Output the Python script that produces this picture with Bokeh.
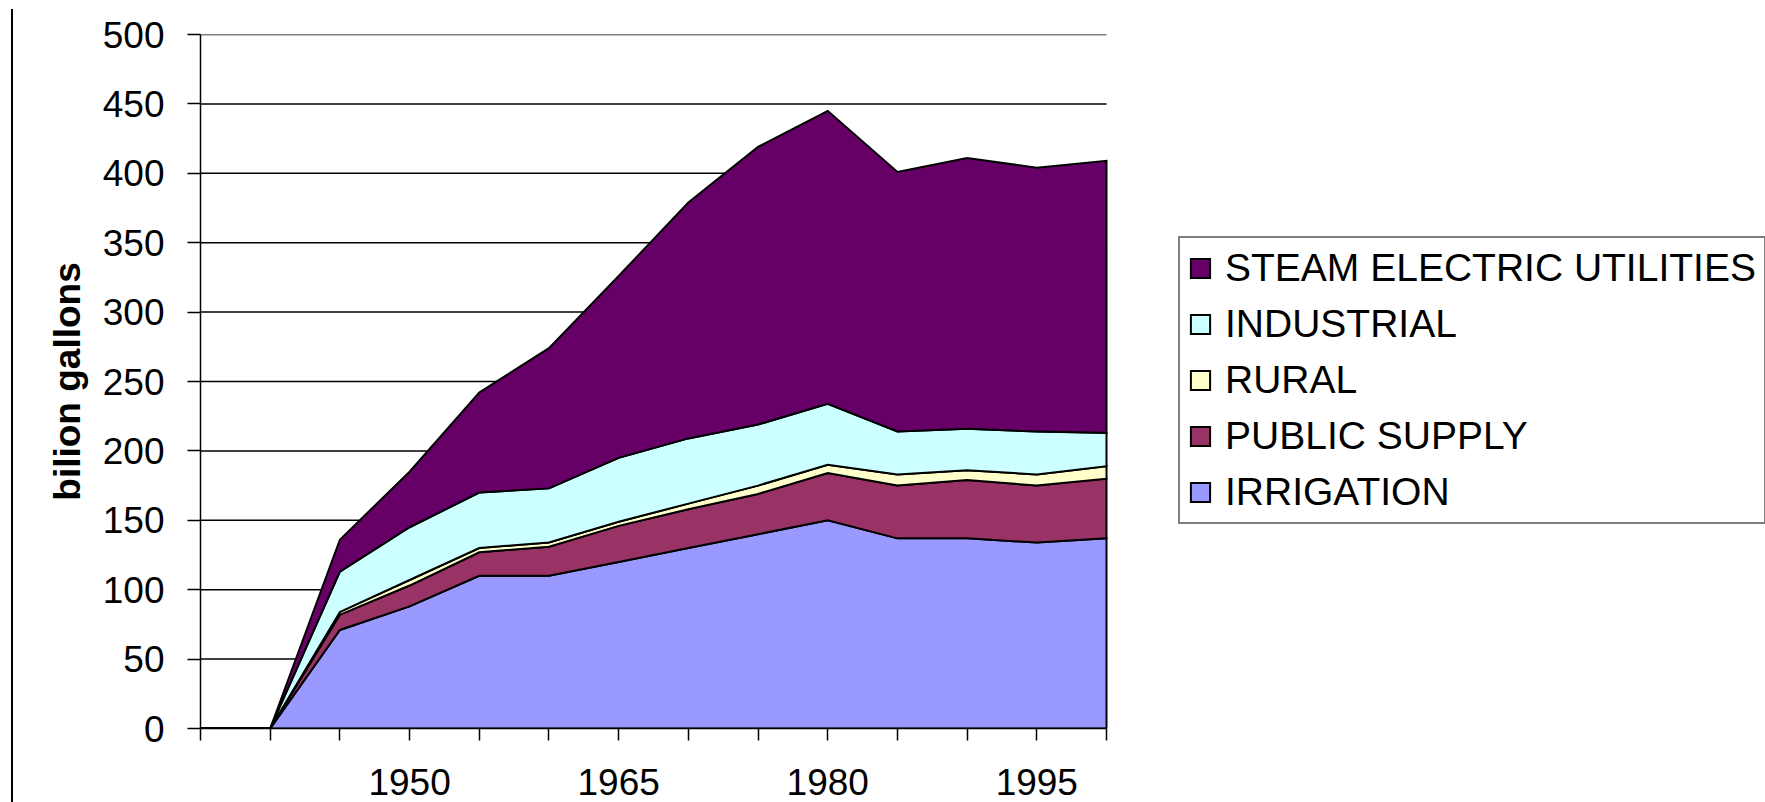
from bokeh.plotting import figure
from bokeh.models import Legend, LegendItem, FixedTicker, Range1d, Div
from bokeh.layouts import row
from bokeh.embed import file_html
from bokeh.resources import INLINE

# ---- data ----
x_positions = [0, 1, 2, 3, 4, 5, 6, 7, 8, 9, 10, 11, 12, 13]
x_tick_labels = ["", "", "", "1950", "", "", "1965", "", "", "1980", "", "", "1995", ""]
y_ticks = [0, 50, 100, 150, 200, 250, 300, 350, 400, 450, 500]

irrigation = [0, 0, 71, 88, 110, 110, 120, 130, 140, 150, 137, 137, 134, 137]
public_supply = [0, 0, 11, 15, 17, 21, 26, 28, 29, 34, 38, 42, 41, 43]
rural = [0, 0, 2, 4, 3, 3, 3, 4, 6, 6, 8, 7, 8, 9]
industrial = [0, 0, 29, 38, 40, 39, 46, 47, 44, 44, 31, 30, 31, 24]
steam_electric = [0, 0, 23, 40, 72, 101, 131, 170, 200, 211, 187, 195, 190, 196]

series_names = ["IRRIGATION", "PUBLIC SUPPLY", "RURAL", "INDUSTRIAL", "STEAM ELECTRIC UTILITIES"]
series_values = [irrigation, public_supply, rural, industrial, steam_electric]
series_colors = ["#9999FF", "#993366", "#FFFFCC", "#CCFFFF", "#660066"]

FONT = "Liberation Sans"

# layout geometry (pixels)
W, H = 1752, 802
LEFT, TOP, BOTTOM = 187, 34, 74
PLOT_W = 906                      # width of the drawn category span
frame_w = W - LEFT
x_end = x_positions[-1] * frame_w / PLOT_W   # frame extends right to host the legend

p = figure(width=W, height=H,
           x_range=Range1d(x_positions[0], x_end), y_range=Range1d(y_ticks[0], y_ticks[-1]),
           output_backend="svg", toolbar_location=None,
           min_border_left=LEFT, min_border_right=0,
           min_border_top=TOP, min_border_bottom=BOTTOM)
p.outline_line_color = None
p.background_fill_color = "white"
p.border_fill_color = "white"

# horizontal gridlines only across the category span
p.xgrid.visible = False
p.ygrid.visible = False
p.segment(x0=x_positions[0], x1=x_positions[-1], y0=y_ticks, y1=y_ticks,
          line_color="black", line_width=1.5, level="underlay")

# stacked areas
renderers = {}
bottom = [0] * len(x_positions)
for name, vals, col in zip(series_names, series_values, series_colors):
    top = [b + v for b, v in zip(bottom, vals)]
    xs = x_positions + x_positions[::-1]
    ys = top + bottom[::-1]
    r = p.patch(xs, ys, fill_color=col, line_color="black", line_width=2, line_join="miter")
    renderers[name] = r
    bottom = top

# axes
p.xaxis.bounds = (x_positions[0], x_positions[-1])
p.xaxis.ticker = FixedTicker(ticks=x_positions)
p.xaxis.major_label_overrides = {k: v for k, v in zip(x_positions, x_tick_labels)}
p.xaxis.major_tick_out = 12
p.xaxis.major_tick_in = 0
p.xaxis.minor_tick_out = 0
p.xaxis.minor_tick_in = 0
p.xaxis.major_label_standoff = 28
p.xaxis.major_label_text_font = FONT
p.xaxis.major_label_text_font_size = "37px"
p.xaxis.major_label_text_color = "black"

p.yaxis.ticker = FixedTicker(ticks=y_ticks)
p.yaxis.major_tick_out = 13
p.yaxis.major_tick_in = 0
p.yaxis.minor_tick_out = 0
p.yaxis.minor_tick_in = 0
p.yaxis.major_label_standoff = 23
p.yaxis.major_label_text_font = FONT
p.yaxis.major_label_text_font_size = "37px"
p.yaxis.major_label_text_color = "black"
p.yaxis.axis_label = "bilion gallons"
p.yaxis.axis_label_text_font = FONT
p.yaxis.axis_label_text_font_size = "37px"
p.yaxis.axis_label_text_font_style = "bold"
p.yaxis.axis_label_text_color = "black"
p.yaxis.axis_label_standoff = 12

for ax in (p.xaxis, p.yaxis):
    ax.axis_line_color = "black"
    ax.axis_line_width = 1.5
    ax.major_tick_line_color = "black"
    ax.major_tick_line_width = 1.5

legend_order = ["STEAM ELECTRIC UTILITIES", "INDUSTRIAL", "RURAL", "PUBLIC SUPPLY", "IRRIGATION"]
legend = Legend(items=[LegendItem(label=n, renderers=[renderers[n]]) for n in legend_order],
                location=(978, 204), glyph_width=24, glyph_height=24,
                label_standoff=13, padding=8, spacing=12, margin=0,
                border_line_color="black", border_line_width=2,
                label_text_font=FONT, label_text_font_size="39px",
                label_text_color="black", background_fill_alpha=1.0)
p.add_layout(legend)

edge = Div(text="", width=2, height=793, margin=(9, 0, 0, 11),
           styles={"background-color": "black"})

layout = row(edge, p)
open("out.html", "w").write(file_html(layout, INLINE))
